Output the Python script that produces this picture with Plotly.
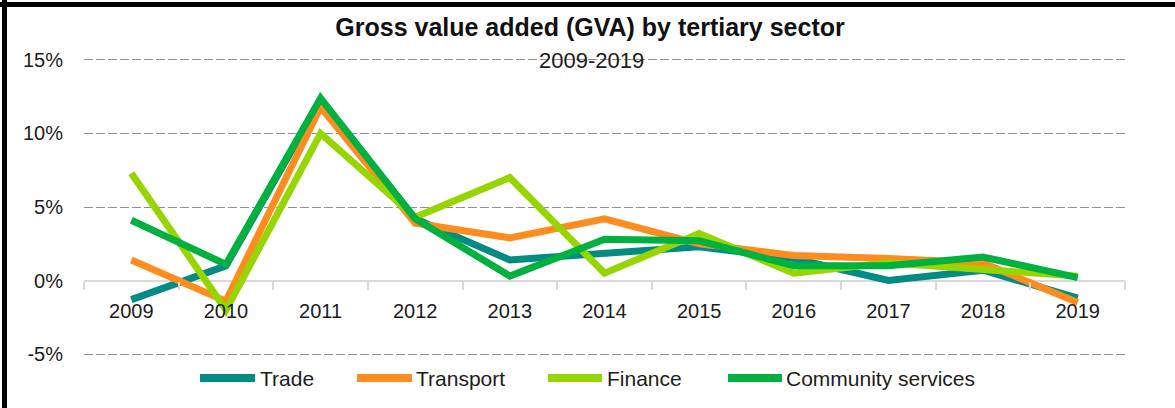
import plotly.graph_objects as go

years = ["2009", "2010", "2011", "2012", "2013", "2014", "2015", "2016", "2017", "2018", "2019"]
trade = [-1.3, 1.0, 12.3, 4.2, 1.4, 1.8, 2.3, 1.5, 0.0, 0.7, -1.2]
transport = [1.4, -1.4, 11.8, 3.9, 2.9, 4.2, 2.5, 1.7, 1.5, 1.2, -1.5]
finance = [7.3, -2.0, 10.0, 4.3, 7.0, 0.5, 3.2, 0.5, 1.2, 0.7, 0.3]
community = [4.1, 1.1, 12.4, 4.2, 0.3, 2.8, 2.7, 1.0, 1.0, 1.6, 0.2]
y_ticks = [-5, 0, 5, 10, 15]
y_tick_labels = ["-5%", "0%", "5%", "10%", "15%"]

series = [
    ("Trade", trade, "#008C82"),
    ("Transport", transport, "#FF8C1F"),
    ("Finance", finance, "#96D500"),
    ("Community services", community, "#00B140"),
]

FONT = "Liberation Sans, Arial, sans-serif"
TXT = "#1c1c1c"
W, H = 1175, 408
L, R, T, B = 84, 50, 57, 51
pw, ph = W - L - R, H - T - B

def px(x):
    return (x - L) / pw

def py(y):
    return (H - B - y) / ph

fig = go.Figure()
for name, vals, col in series:
    fig.add_trace(go.Scatter(x=years, y=vals, name=name, mode="lines",
                             line=dict(color=col, width=7), showlegend=False))

# custom legend (long swatches as in the reference)
legend_pos = [(200, 255, 258), (357, 412, 414), (548, 602, 605), (728, 782, 784)]
shapes = []
annotations = []
for (name, _, col), (x0, x1, xt) in zip(series, legend_pos):
    shapes.append(dict(type="line", xref="paper", yref="paper", x0=px(x0), x1=px(x1),
                       y0=py(378), y1=py(378), line=dict(color=col, width=8)))
    annotations.append(dict(text=name, xref="paper", yref="paper", x=px(xt), y=py(378),
                            xanchor="left", yanchor="middle", showarrow=False,
                            font=dict(family=FONT, size=21, color=TXT)))

annotations.append(dict(text="2009-2019", xref="paper", yref="paper", x=px(591), y=py(61),
                        xanchor="center", yanchor="middle", showarrow=False,
                        font=dict(family=FONT, size=22, color=TXT)))

shapes += [
    dict(type="line", xref="paper", yref="paper", x0=px(0), x1=px(W), y0=py(4.5), y1=py(4.5),
         line=dict(color="black", width=5), layer="above"),
    dict(type="line", xref="paper", yref="paper", x0=px(4.5), x1=px(4.5), y0=py(0), y1=py(H),
         line=dict(color="black", width=5), layer="above"),
]

fig.update_layout(
    width=W, height=H,
    margin=dict(l=L, r=R, t=T, b=B, autoexpand=False),
    paper_bgcolor="white", plot_bgcolor="white",
    font=dict(family=FONT, size=20, color=TXT),
    title=dict(text="<b>Gross value added (GVA) by tertiary sector</b>",
               x=590 / W, xref="container", y=1 - 27 / H, yref="container",
               xanchor="center", yanchor="middle",
               font=dict(family=FONT, size=25, color="#111111")),
    showlegend=False,
    xaxis=dict(type="category", range=[-0.5, 10.5], anchor="free", position=(0 + 5.2) / 20.4,
               showgrid=False, showline=False, ticks="outside", tickson="boundaries",
               ticklen=8, tickwidth=1.5, tickcolor="#d9d9d9",
               tickfont=dict(family=FONT, size=20, color=TXT),
               ticklabelstandoff=16, zeroline=False, fixedrange=True),
    xaxis2=dict(matches="x", overlaying="x", anchor="free", position=(0 + 5.2) / 20.4,
                type="category", showgrid=False, showline=False, ticks="inside",
                tickson="boundaries", ticklen=7, tickwidth=1.5, tickcolor="#d9d9d9",
                showticklabels=False, zeroline=False, fixedrange=True),
    yaxis=dict(range=[-5.2, 15.2], tickvals=y_ticks, ticktext=y_tick_labels, showgrid=True,
               gridcolor="#8f8f8f", gridwidth=1, griddash="9px,3px",
               zeroline=True, zerolinecolor="#d9d9d9", zerolinewidth=2,
               showline=False, ticks="", ticklabelstandoff=20,
               tickfont=dict(family=FONT, size=20, color=TXT), fixedrange=True),
    annotations=annotations,
    shapes=shapes,
)

fig.write_html("out.html", config={"displayModeBar": False},
               post_script="document.body.style.margin='0';document.body.style.overflow='hidden';")
